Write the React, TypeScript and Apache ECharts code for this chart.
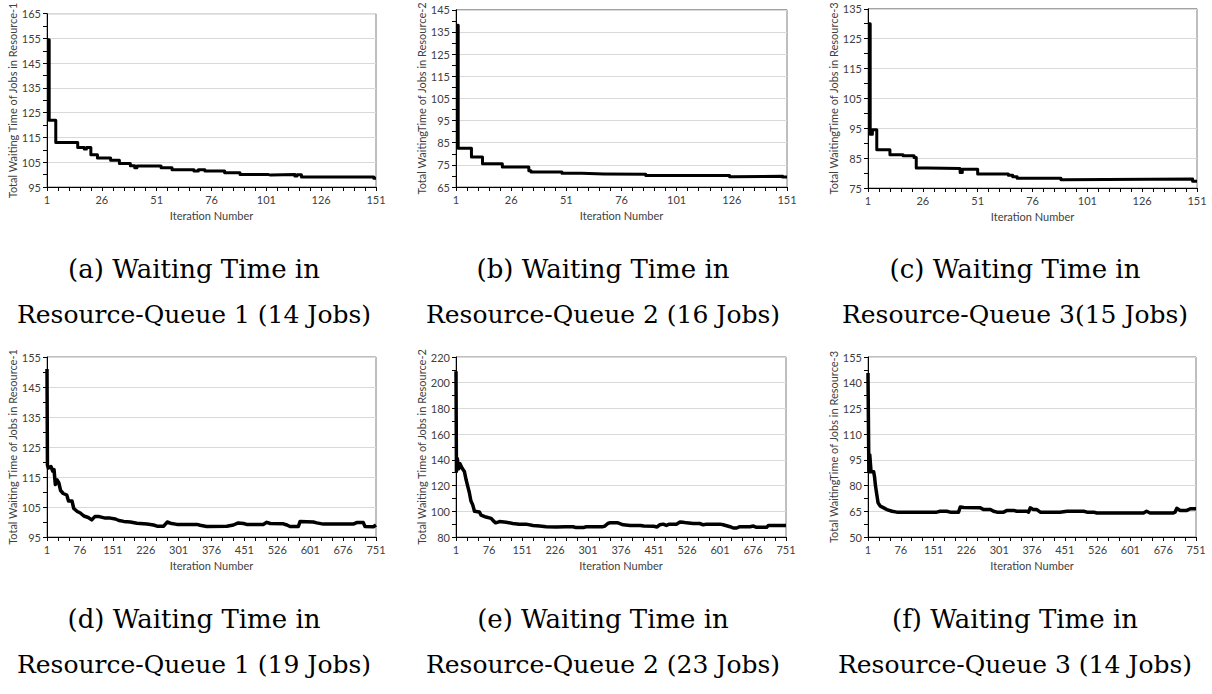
import React, { useEffect, useRef } from "react";
import * as echarts from "echarts";

// ---------- data (iteration number, total waiting time) ----------
const itersA = [1, 2, 5, 15, 18, 19, 21, 24, 30, 34, 39, 41, 42, 53, 58, 68, 70, 73, 82, 89, 102, 103, 114, 115, 117, 150, 151];
const waitA = [154.5, 122, 113, 111, 110.3, 111, 108, 106.7, 105.8, 104.5, 103.6, 102.8, 103.5, 102.8, 102, 101.5, 102, 101.5, 100.8, 100, 99.8, 100, 99.4, 99.9, 99, 98.5, 98.5];

const itersB = [1, 2, 8, 13, 22, 34, 35, 49, 58, 68, 87, 125, 126, 149, 151];
const waitB = [138, 82.5, 78.5, 75.5, 74, 72.3, 71.8, 71.2, 70.9, 70.7, 70.2, 69.6, 69.9, 69.5, 69.5];

const itersC = [1, 2, 3, 5, 11, 17, 22, 23, 28, 43, 44, 51, 65, 67, 69, 89, 90, 149, 151];
const waitC = [130, 93, 94.5, 87.8, 86.1, 85.8, 85.2, 81.7, 81.5, 80.2, 81.3, 79.7, 79.3, 78.8, 78.3, 77.8, 78, 77.3, 77.3];

const itersD = [1, 2, 4, 10, 14, 17, 20, 24, 28, 32, 38, 46, 50, 58, 62, 70, 77, 85, 95, 103, 110, 120, 134, 145, 157, 165, 176, 191, 206, 229, 244, 252, 267, 275, 282, 297, 343, 350, 365, 411, 426, 437, 449, 456, 494, 502, 510, 540, 548, 555, 574, 578, 608, 616, 631, 699, 707, 722, 726, 745, 751];
const waitD = [151, 119, 118, 118.5, 117, 117.5, 112.5, 114, 113, 110.5, 109.5, 109, 107, 107, 104.5, 103.5, 103, 102, 101.5, 100.7, 101.8, 101.8, 101.3, 101.3, 101, 100.5, 100.2, 100, 99.6, 99.3, 99, 98.6, 98.6, 100, 99.6, 99.2, 99.2, 98.9, 98.5, 98.6, 99, 99.7, 99.5, 99.2, 99.2, 99.9, 99.5, 99.4, 99, 98.5, 98.5, 100.2, 100, 99.7, 99.3, 99.3, 99.8, 99.8, 98.5, 98.4, 99];

const itersE = [1, 2, 4, 7, 10, 15, 20, 24, 28, 31, 35, 39, 43, 54, 58, 69, 81, 86, 91, 100, 115, 130, 145, 160, 176, 191, 206, 229, 250, 267, 274, 290, 297, 335, 339, 346, 350, 369, 381, 397, 420, 428, 450, 458, 464, 472, 479, 486, 502, 510, 517, 525, 540, 555, 563, 571, 601, 608, 624, 631, 639, 646, 669, 677, 684, 707, 711, 751];
const waitE = [209, 131, 141, 133, 137, 133.5, 131, 124.5, 119, 115, 108, 105, 100, 99.5, 97, 95.5, 94.5, 92.5, 91, 92, 91.5, 90.5, 90, 90, 89, 88.5, 88, 87.8, 88, 88, 87.3, 87.3, 88, 88, 88.5, 90.5, 91, 91, 89.5, 89, 89, 88.5, 88.3, 87.8, 89.5, 90, 89, 90, 90, 91.6, 91.5, 91, 90.5, 90.5, 89.5, 90, 90, 89.5, 88, 87, 87, 88, 88, 88.5, 87.5, 87.5, 89, 89];

const itersF = [1, 3, 5, 8, 14, 16, 18, 21, 24, 29, 37, 44, 56, 67, 158, 166, 181, 189, 208, 212, 220, 258, 265, 281, 288, 296, 311, 319, 334, 341, 364, 368, 372, 379, 387, 395, 440, 456, 494, 502, 517, 524, 600, 631, 638, 646, 699, 703, 707, 715, 730, 738, 751];
const waitF = [145.7, 88, 98, 88, 88, 85, 80, 75, 70, 68, 67, 66, 65, 64.5, 64.5, 65, 65, 64.5, 64.5, 67.5, 67.2, 67, 66, 66, 65, 64.5, 64.5, 65.5, 65.5, 65, 65, 64.5, 67, 66, 66, 64.5, 64.5, 65, 65, 64.5, 64.5, 64, 64, 64, 65, 64, 64, 64.5, 66.7, 65.5, 65.5, 66.5, 66.5];

// axis ranges
const yRangeA = [95, 165, 10];
const yRangeB = [65, 145, 10];
const yRangeC = [75, 135, 10];
const yRangeD = [95, 155, 10];
const yRangeE = [80, 220, 20];
const yRangeF = [50, 155, 15];

const xRangeTop = [1, 151, 25, 5];
const xRangeBottom = [1, 751, 75, 3];

const yNames = [
  "Total Waiting Time of Jobs in Resource-1",
  "Total WaitingTime of Jobs in Resource-2",
  "Total WaitingTime of Jobs in Resource-3",
  "Total Waiting Time of Jobs in Resource-1",
  "Total Waiting Time of Jobs in Resource-2",
  "Total WaitingTime of Jobs in Resource-3",
];
const xName = "Iteration Number";

const captions = [
  ["(a) Waiting Time in", "Resource-Queue 1 (14 Jobs)"],
  ["(b) Waiting Time in", "Resource-Queue 2 (16 Jobs)"],
  ["(c) Waiting Time in", "Resource-Queue 3(15 Jobs)"],
  ["(d) Waiting Time in", "Resource-Queue 1 (19 Jobs)"],
  ["(e) Waiting Time in", "Resource-Queue 2 (23 Jobs)"],
  ["(f) Waiting Time in", "Resource-Queue 3 (14 Jobs)"],
];

// ---------- layout ----------
const gridBoxes = [
  { left: 47, top: 7, width: 329, height: 180 },
  { left: 456, top: 7, width: 331, height: 180 },
  { left: 868, top: 7, width: 329, height: 181 },
  { left: 47, top: 357, width: 329, height: 180 },
  { left: 456, top: 357, width: 330, height: 180 },
  { left: 868, top: 357, width: 328, height: 180 },
];
const captionCenters = [194, 603, 1015];
const captionRows = [
  [269, 314],
  [619, 664],
];

const panels = [
  { iters: itersA, vals: waitA, y: yRangeA, x: xRangeTop, step: true },
  { iters: itersB, vals: waitB, y: yRangeB, x: xRangeTop, step: true },
  { iters: itersC, vals: waitC, y: yRangeC, x: xRangeTop, step: true },
  { iters: itersD, vals: waitD, y: yRangeD, x: xRangeBottom, step: false },
  { iters: itersE, vals: waitE, y: yRangeE, x: xRangeBottom, step: false },
  { iters: itersF, vals: waitF, y: yRangeF, x: xRangeBottom, step: false },
];

const LABEL_FONT = "Lato";
const LABEL_COLOR = "#404040";

function buildOption() {
  const grid: any[] = [];
  const xAxis: any[] = [];
  const yAxis: any[] = [];
  const series: any[] = [];
  const graphic: any[] = [];

  panels.forEach((p, i) => {
    const [xMin, xMax, xStep, xMinor] = p.x;
    const [yMin, yMax, yStep] = p.y;
    grid.push({
      ...gridBoxes[i],
      show: true,
      borderColor: "#7f7f7f",
      borderWidth: 1,
      backgroundColor: "transparent",
      containLabel: false,
    });
    xAxis.push({
      type: "value",
      gridIndex: i,
      min: 0,
      max: xMax - xMin,
      interval: xStep,
      axisLine: { show: true, onZero: false, lineStyle: { color: "#000", width: 1 } },
      axisTick: { show: true, length: 4, lineStyle: { color: "#000", width: 1 } },
      minorTick: { show: true, splitNumber: xMinor, length: 4, lineStyle: { color: "#000", width: 1 } },
      splitLine: { show: false },
      axisLabel: {
        formatter: (v: number) => String(v + xMin),
        color: LABEL_COLOR,
        fontFamily: LABEL_FONT,
        fontSize: 11,
        margin: 7,
      },
      name: xName,
      nameLocation: "middle",
      nameGap: 23,
      nameTextStyle: { color: LABEL_COLOR, fontFamily: LABEL_FONT, fontSize: 11 },
    });
    yAxis.push({
      type: "value",
      gridIndex: i,
      min: 0,
      max: yMax - yMin,
      interval: yStep,
      axisLine: { show: true, onZero: false, lineStyle: { color: "#000", width: 1 } },
      axisTick: { show: true, length: 4, lineStyle: { color: "#000", width: 1 } },
      minorTick: { show: true, splitNumber: 2, length: 4, lineStyle: { color: "#000", width: 1 } },
      splitLine: { show: true, lineStyle: { color: "#d9d9d9", width: 1 } },
      axisLabel: {
        formatter: (v: number) => String(v + yMin),
        color: LABEL_COLOR,
        fontFamily: LABEL_FONT,
        fontSize: 11,
        margin: 6,
      },
      name: yNames[i],
      nameLocation: "middle",
      nameGap: 29,
      nameTextStyle: { color: LABEL_COLOR, fontFamily: LABEL_FONT, fontSize: 11 },
    });
    series.push({
      type: "line",
      xAxisIndex: i,
      yAxisIndex: i,
      data: p.iters.map((it, k) => [it - xMin, p.vals[k] - yMin]),
      step: p.step ? "end" : false,
      showSymbol: false,
      symbol: "none",
      lineStyle: { color: "#000", width: p.step ? 3 : 3.5, join: "round" },
      z: 5,
    });
  });

  captions.forEach((c, i) => {
    const cx = captionCenters[i % 3];
    const row = captionRows[Math.floor(i / 3)];
    c.forEach((line, j) => {
      graphic.push({
        type: "text",
        x: cx,
        y: row[j],
        style: {
          text: line,
          fontFamily: "DejaVu Serif",
          fontSize: j === 0 ? 26 : 25,
          fill: "#000",
          align: "center",
          verticalAlign: "middle",
        },
      });
    });
  });

  return { animation: false, backgroundColor: "#fff", grid, xAxis, yAxis, series, graphic };
}

export default function App() {
  const ref = useRef<HTMLDivElement>(null);
  useEffect(() => {
    if (!ref.current) return;
    const chart = echarts.init(ref.current, undefined, { renderer: "svg" });
    chart.setOption(buildOption());
    return () => chart.dispose();
  }, []);
  return (
    <div
      ref={ref}
      style={{ position: "absolute", left: 0, top: 0, width: 1212, height: 694, background: "#fff" }}
    />
  );
}
